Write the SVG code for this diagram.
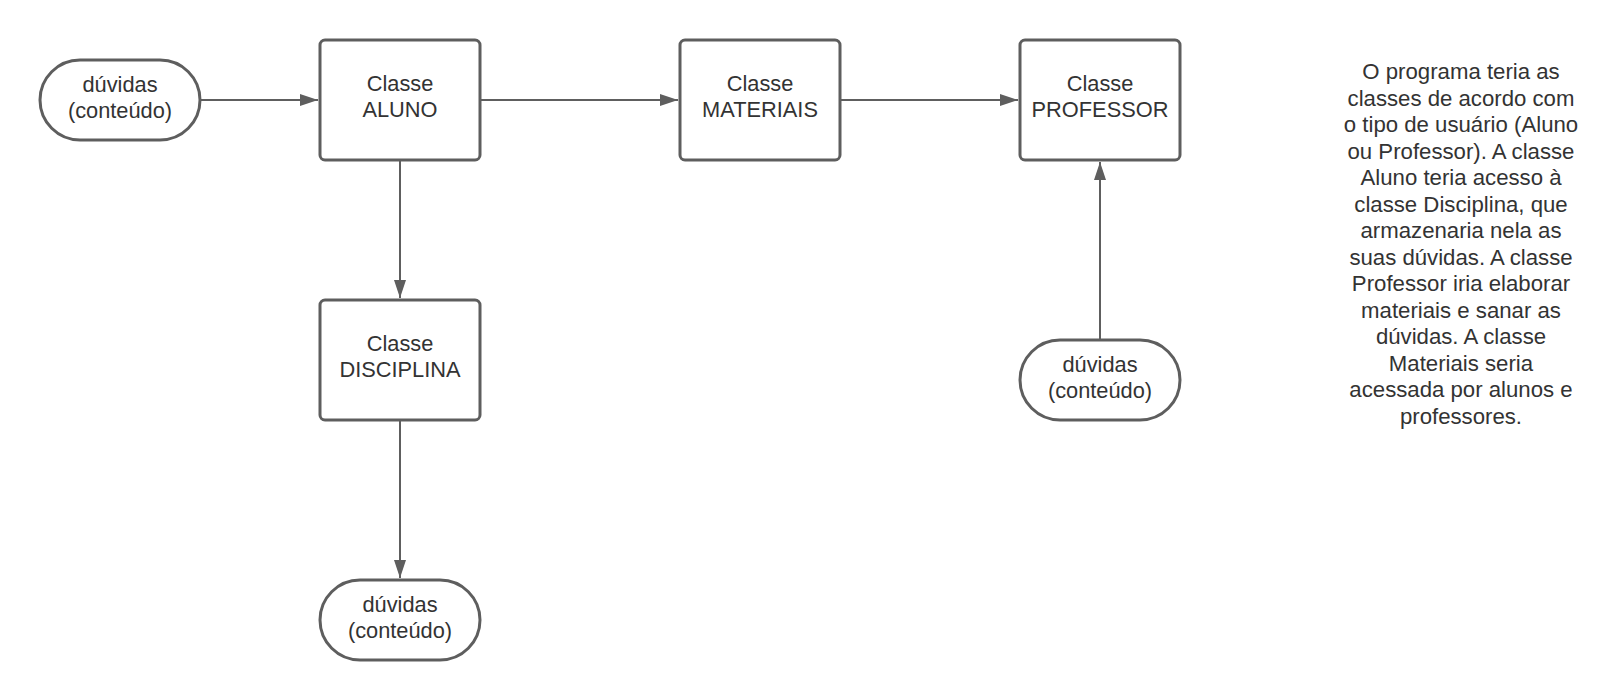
<svg xmlns="http://www.w3.org/2000/svg" width="1620" height="700" viewBox="0 0 1620 700">
  <style>
    .box { fill: #ffffff; stroke: #5e5e5e; stroke-width: 3; }
    .conn { fill: none; stroke: #5e5e5e; stroke-width: 2; }
    .t { font-family: "Liberation Sans", Arial, sans-serif; font-size: 21.8px; fill: #333333; text-anchor: middle; }
    .n { font-size: 22.2px; }
  </style>
  <defs>
    <marker id="arrow" markerUnits="userSpaceOnUse" markerWidth="18" markerHeight="12" refX="18" refY="6" orient="auto">
      <path d="M0,0 L18,6 L0,12 z" fill="#5e5e5e"/>
    </marker>
  </defs>
  <rect width="1620" height="700" fill="#ffffff"/>

  <g id="connectors">
    <path class="conn" d="M200,100 L318,100" marker-end="url(#arrow)"/>
    <path class="conn" d="M480,100 L678,100" marker-end="url(#arrow)"/>
    <path class="conn" d="M840,100 L1018,100" marker-end="url(#arrow)"/>
    <path class="conn" d="M400,160 L400,298" marker-end="url(#arrow)"/>
    <path class="conn" d="M400,420 L400,578" marker-end="url(#arrow)"/>
    <path class="conn" d="M1100,340 L1100,162" marker-end="url(#arrow)"/>
  </g>

  <g id="duvidas1">
    <rect class="box" x="40" y="60" width="160" height="80" rx="40" ry="40"/>
    <text class="t" x="120" y="91.5">dúvidas</text>
    <text class="t" x="120" y="117.5">(conteúdo)</text>
  </g>

  <g id="aluno">
    <rect class="box" x="320" y="40" width="160" height="120" rx="5" ry="5"/>
    <text class="t" x="400" y="90.5">Classe</text>
    <text class="t" x="400" y="116.5">ALUNO</text>
  </g>

  <g id="materiais">
    <rect class="box" x="680" y="40" width="160" height="120" rx="5" ry="5"/>
    <text class="t" x="760" y="90.5">Classe</text>
    <text class="t" x="760" y="116.5">MATERIAIS</text>
  </g>

  <g id="professor">
    <rect class="box" x="1020" y="40" width="160" height="120" rx="5" ry="5"/>
    <text class="t" x="1100" y="90.5">Classe</text>
    <text class="t" x="1100" y="116.5">PROFESSOR</text>
  </g>

  <g id="disciplina">
    <rect class="box" x="320" y="300" width="160" height="120" rx="5" ry="5"/>
    <text class="t" x="400" y="350.5">Classe</text>
    <text class="t" x="400" y="376.5">DISCIPLINA</text>
  </g>

  <g id="duvidas2">
    <rect class="box" x="320" y="580" width="160" height="80" rx="40" ry="40"/>
    <text class="t" x="400" y="611.5">dúvidas</text>
    <text class="t" x="400" y="637.5">(conteúdo)</text>
  </g>

  <g id="duvidas3">
    <rect class="box" x="1020" y="340" width="160" height="80" rx="40" ry="40"/>
    <text class="t" x="1100" y="371.5">dúvidas</text>
    <text class="t" x="1100" y="397.5">(conteúdo)</text>
  </g>

  <g id="nota">
    <text class="t n" x="1461" y="79">O programa teria as</text>
    <text class="t n" x="1461" y="105.5">classes de acordo com</text>
    <text class="t n" x="1461" y="132">o tipo de usuário (Aluno</text>
    <text class="t n" x="1461" y="158.5">ou Professor). A classe</text>
    <text class="t n" x="1461" y="185">Aluno teria acesso à</text>
    <text class="t n" x="1461" y="211.5">classe Disciplina, que</text>
    <text class="t n" x="1461" y="238">armazenaria nela as</text>
    <text class="t n" x="1461" y="264.5">suas dúvidas. A classe</text>
    <text class="t n" x="1461" y="291">Professor iria elaborar</text>
    <text class="t n" x="1461" y="317.5">materiais e sanar as</text>
    <text class="t n" x="1461" y="344">dúvidas. A classe</text>
    <text class="t n" x="1461" y="370.5">Materiais seria</text>
    <text class="t n" x="1461" y="397">acessada por alunos e</text>
    <text class="t n" x="1461" y="423.5">professores.</text>
  </g>
</svg>
